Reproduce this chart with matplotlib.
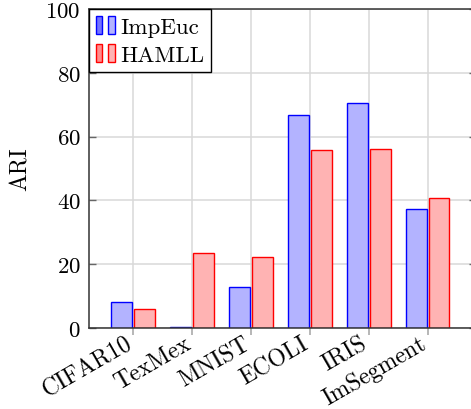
import numpy as np
import matplotlib
matplotlib.use('Agg')
import matplotlib.pyplot as plt
from matplotlib.patches import Patch
from matplotlib.legend_handler import HandlerTuple
from matplotlib.transforms import ScaledTranslation

plt.rcParams['font.family'] = ['cmr10', 'DejaVu Serif']
plt.rcParams['axes.formatter.use_mathtext'] = True
plt.rcParams['mathtext.fontset'] = 'cm'

datasets = ['CIFAR10', 'TexMex', 'MNIST', 'ECOLI', 'IRIS', 'ImSegment']
impeuc = [8.2, 0.2, 12.8, 66.9, 70.4, 37.3]
hamll = [5.9, 23.4, 22.3, 55.7, 56.0, 40.8]
yticks = [0, 20, 40, 60, 80, 100]

fs = 16.5
blue_fill = (0.70, 0.70, 1.0)
red_fill = (1.0, 0.70, 0.70)

fig = plt.figure(figsize=(4.71, 4.10), dpi=100)
ax = fig.add_axes([89 / 471, 1 - 329 / 410, (476 - 89) / 471, (329 - 10) / 410])

x = np.arange(len(datasets))
w = 0.35
off = 0.195
ax.bar(x - off, impeuc, w, color=blue_fill, edgecolor='blue', linewidth=1.0, zorder=3)
ax.bar(x + off, hamll, w, color=red_fill, edgecolor='red', linewidth=1.0, zorder=3)

ax.set_xlim(-0.75, 5.82)
ax.set_ylim(0, 100)
ax.set_yticks(yticks)
ax.set_xticks(x)
ax.set_xticklabels(datasets, rotation=30, ha='right', va='center',
                   rotation_mode='anchor', fontsize=17)
ax.tick_params(axis='x', direction='out', length=5, width=1.2, color='#aaaaaa', pad=5)
ax.tick_params(axis='y', direction='in', length=5, width=1.0, color='#666666',
               right=True, labelsize=fs, pad=6)
for lab in ax.get_xticklabels():
    lab.set_transform(lab.get_transform() + ScaledTranslation(-3 / 100, 0, fig.dpi_scale_trans))

ax.grid(True, color='#d8d8d8', linewidth=1.1, zorder=0)
ax.set_axisbelow(True)
for s in ax.spines.values():
    s.set_color('#333333')
    s.set_linewidth(1.1)
    s.set_zorder(4)

ax.set_ylabel('ARI', fontsize=17, labelpad=10)

# two small bars per legend entry, as in a pgfplots ybar legend
h1 = (Patch(facecolor=(0.45, 0.45, 1.0), edgecolor='blue', linewidth=1.0),
      Patch(facecolor=blue_fill, edgecolor='blue', linewidth=1.0))
h2 = (Patch(facecolor=(1.0, 0.55, 0.55), edgecolor='red', linewidth=1.0),
      Patch(facecolor=red_fill, edgecolor='red', linewidth=1.0))
leg = ax.legend([h1, h2], ['ImpEuc', 'HAMLL'],
                handler_map={tuple: HandlerTuple(ndivide=None, pad=0.27)},
                loc='upper left', bbox_to_anchor=(0, 1), borderaxespad=0,
                fontsize=fs, handlelength=0.82, handleheight=0.85,
                handletextpad=0.25, labelspacing=0.3, borderpad=0.3,
                fancybox=False, framealpha=1, edgecolor='black')
leg.get_frame().set_linewidth(1.0)
leg.set_zorder(5)

fig.savefig('out.png', dpi=100)
